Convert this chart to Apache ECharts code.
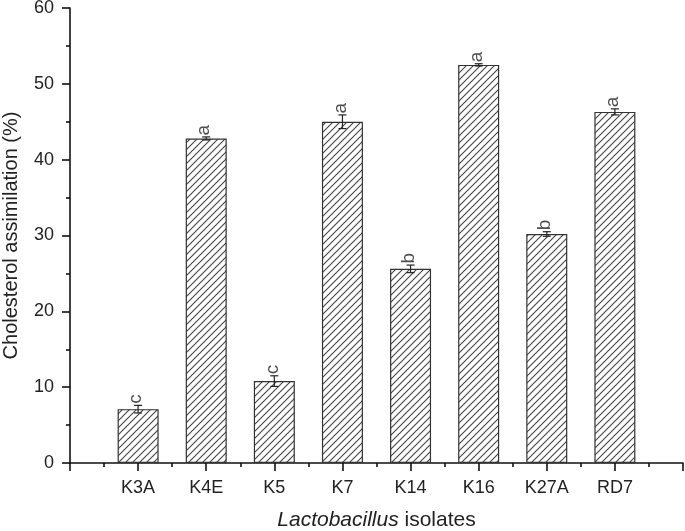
<!DOCTYPE html>
<html>
<head>
<meta charset="utf-8">
<script src="https://cdn.jsdelivr.net/npm/echarts@6/dist/echarts.min.js"></script>
<style>html,body{margin:0;padding:0;background:#fff}#c{width:685px;height:531px}</style>
</head>
<body>
<div id="c"></div>
<script>
const categories = ['K3A', 'K4E', 'K5', 'K7', 'K14', 'K16', 'K27A', 'RD7'];
const values = [7.1, 42.8, 10.8, 45.0, 25.6, 52.5, 30.2, 46.3];
const errors = [0.5, 0.2, 0.7, 0.9, 0.5, 0.15, 0.3, 0.4];
const letters = ['c', 'a', 'c', 'a', 'b', 'a', 'b', 'a'];
const yTicks = [0, 10, 20, 30, 40, 50, 60];

// hatch pattern
const pc = document.createElement('canvas');
pc.width = 7; pc.height = 7;
const g = pc.getContext('2d');
g.fillStyle = '#fff'; g.fillRect(0, 0, 7, 7);
g.strokeStyle = '#444'; g.lineWidth = 1.1;
g.beginPath();
g.moveTo(-1, 8); g.lineTo(8, -1);
g.moveTo(-1, 1); g.lineTo(1, -1);
g.moveTo(6, 8); g.lineTo(8, 6);
g.stroke();

const barData = values.map((v, i) => [i + 1, v]);
const errData = values.map((v, i) => [i + 1, v, errors[i]]);
const letterData = values.map((v, i) => ({value: [i + 1, v + errors[i]], label: {formatter: letters[i]}}));

const chart = echarts.init(document.getElementById('c'), null, {renderer: 'canvas'});
const font = 'Liberation Sans, Arial, sans-serif';
chart.setOption({
  animation: false,
  grid: {left: 70, right: 2, top: 8, bottom: 68, containLabel: false, outerBoundsMode: 'none'},
  xAxis: {
    type: 'value', min: 0, max: categories.length + 1, interval: 1,
    splitLine: {show: false},
    axisLine: {show: true, lineStyle: {color: '#111', width: 1.6}},
    axisTick: {show: true, length: 8, inside: false, lineStyle: {color: '#111', width: 1.6}},
    minorTick: {show: true, splitNumber: 2, length: 4, lineStyle: {color: '#111', width: 1.6}},
    axisLabel: {
      margin: 16, color: '#222', fontSize: 18, fontFamily: font,
      formatter: v => (v >= 1 && v <= categories.length) ? categories[v - 1] : ''
    },
    name: '{i|Lactobacillus} isolates',
    nameLocation: 'middle', nameGap: 47,
    nameTextStyle: {
      color: '#222', fontSize: 21, fontFamily: font,
      rich: {i: {fontStyle: 'italic', fontSize: 21, fontFamily: font, color: '#222'}}
    }
  },
  yAxis: {
    type: 'value', min: 0, max: 60, interval: 10,
    splitLine: {show: false},
    axisLine: {show: true, lineStyle: {color: '#111', width: 1.6}},
    axisTick: {show: true, length: 8, lineStyle: {color: '#111', width: 1.6}},
    minorTick: {show: true, splitNumber: 2, length: 4, lineStyle: {color: '#111', width: 1.6}},
    axisLabel: {margin: 16, color: '#222', fontSize: 18, fontFamily: font,
      formatter: v => yTicks.includes(v) ? String(v) : ''},
    name: 'Cholesterol assimilation (%)',
    nameLocation: 'middle', nameGap: 49, nameRotate: 90,
    nameTextStyle: {color: '#222', fontSize: 20, fontFamily: font}
  },
  series: [
    {
      type: 'bar', data: barData, barWidth: 41,
      itemStyle: {color: {image: pc, repeat: 'repeat'}, borderColor: '#333', borderWidth: 1.2}
    },
    {
      type: 'custom', data: errData, z: 5,
      renderItem: function (params, api) {
        const x = api.value(0), v = api.value(1), e = api.value(2);
        const top = api.coord([x, v + e]);
        const bot = api.coord([x, v - e]);
        const cx = top[0];
        const cap = 4;
        return {
          type: 'group',
          children: [
            {type: 'line', shape: {x1: cx, y1: top[1], x2: cx, y2: bot[1]}, style: {stroke: '#222', lineWidth: 1.2}},
            {type: 'line', shape: {x1: cx - cap, y1: top[1], x2: cx + cap, y2: top[1]}, style: {stroke: '#222', lineWidth: 1.2}},
            {type: 'line', shape: {x1: cx - cap, y1: bot[1], x2: cx + cap, y2: bot[1]}, style: {stroke: '#222', lineWidth: 1.2}}
          ]
        };
      }
    },
    {
      type: 'scatter', data: letterData, symbolSize: 1, z: 6,
      itemStyle: {color: 'rgba(0,0,0,0)'},
      label: {
        show: true, position: 'top', distance: 1, rotate: 90,
        align: 'left', verticalAlign: 'middle', offset: [0, -2],
        color: '#222', fontSize: 19, fontFamily: font
      }
    }
  ]
});
</script>
</body>
</html>
